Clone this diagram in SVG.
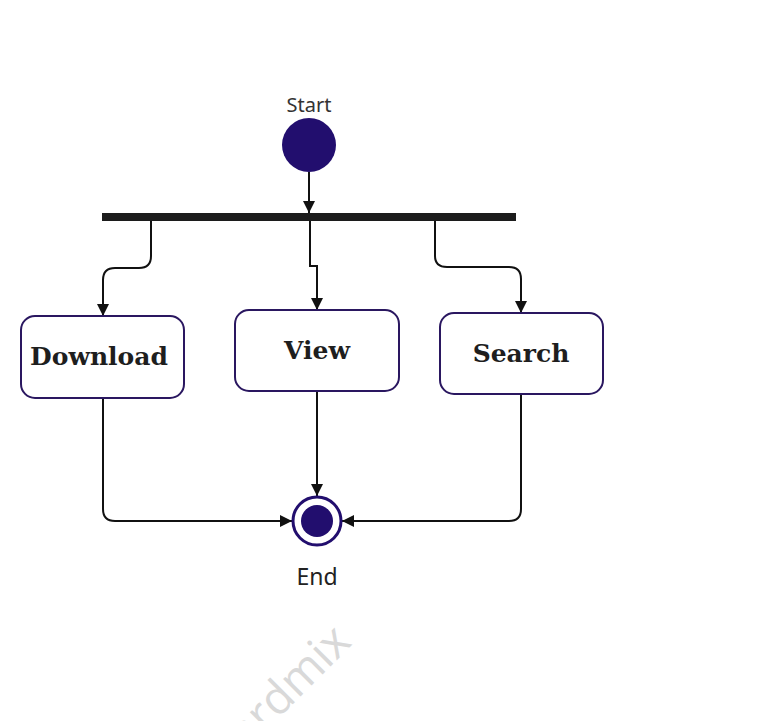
<svg xmlns="http://www.w3.org/2000/svg" width="758" height="721" viewBox="0 0 758 721">
<defs>
<style>
.box{fill:#fff;stroke:#2a1760;stroke-width:2}
.lbl{font-family:"DejaVu Serif",serif;font-weight:bold;font-size:25px;fill:#1e1e1e;text-anchor:middle}
.cap{font-family:"Noto Sans","Liberation Sans",sans-serif;font-size:20px;fill:#333;text-anchor:middle}
.wire{fill:none;stroke:#111;stroke-width:2}
</style>
<marker id="arr" viewBox="0 0 12 12" refX="12" refY="6" markerWidth="12" markerHeight="12" markerUnits="userSpaceOnUse" orient="auto">
<path d="M0,0 L12,6 L0,12 Z" fill="#111"/>
</marker>
</defs>
<rect width="758" height="721" fill="#fff"/>
<text x="353" y="644" transform="rotate(-45 353 644)" text-anchor="end" font-family="Open Sans,Noto Sans,sans-serif" font-size="46" fill="#d9d9d9">boardmix</text>
<g id="connectors">
<path class="wire" d="M309,172 V213" marker-end="url(#arr)"/>
<path class="wire" d="M151,221 V256 Q151,268 139,268 H115 Q103,268 103,280 V316" marker-end="url(#arr)"/>
<path class="wire" d="M310,221 V266 H317 V310" marker-end="url(#arr)"/>
<path class="wire" d="M435,221 V256 Q435,267 447,267 H509 Q521,267 521,279 V313" marker-end="url(#arr)"/>
<path class="wire" d="M103,398 V509 Q103,521 115,521 H292" marker-end="url(#arr)"/>
<path class="wire" d="M317,391 V496" marker-end="url(#arr)"/>
<path class="wire" d="M521,394 V509 Q521,521 509,521 H342" marker-end="url(#arr)"/>
</g>
<g id="start">
<text class="cap" x="309" y="112">Start</text>
<circle cx="309" cy="145" r="27" fill="#220e6e"/>
</g>
<g id="fork">
<rect x="102" y="213" width="414" height="8" fill="#1c1c1c"/>
</g>
<g id="download">
<rect class="box" x="21" y="316" width="163" height="82" rx="14"/>
<text class="lbl" x="99" y="365">Download</text>
</g>
<g id="view">
<rect class="box" x="235" y="310" width="164" height="81" rx="14"/>
<text class="lbl" x="317" y="359">View</text>
</g>
<g id="search">
<rect class="box" x="440" y="313" width="163" height="81" rx="14"/>
<text class="lbl" x="521" y="362">Search</text>
</g>
<g id="end">
<circle cx="317" cy="521" r="24" fill="#fff" stroke="#220e6e" stroke-width="3"/>
<circle cx="317" cy="521" r="16" fill="#220e6e"/>
<text class="cap" x="317" y="585" style="font-size:23px;fill:#222">End</text>
</g>
</svg>
